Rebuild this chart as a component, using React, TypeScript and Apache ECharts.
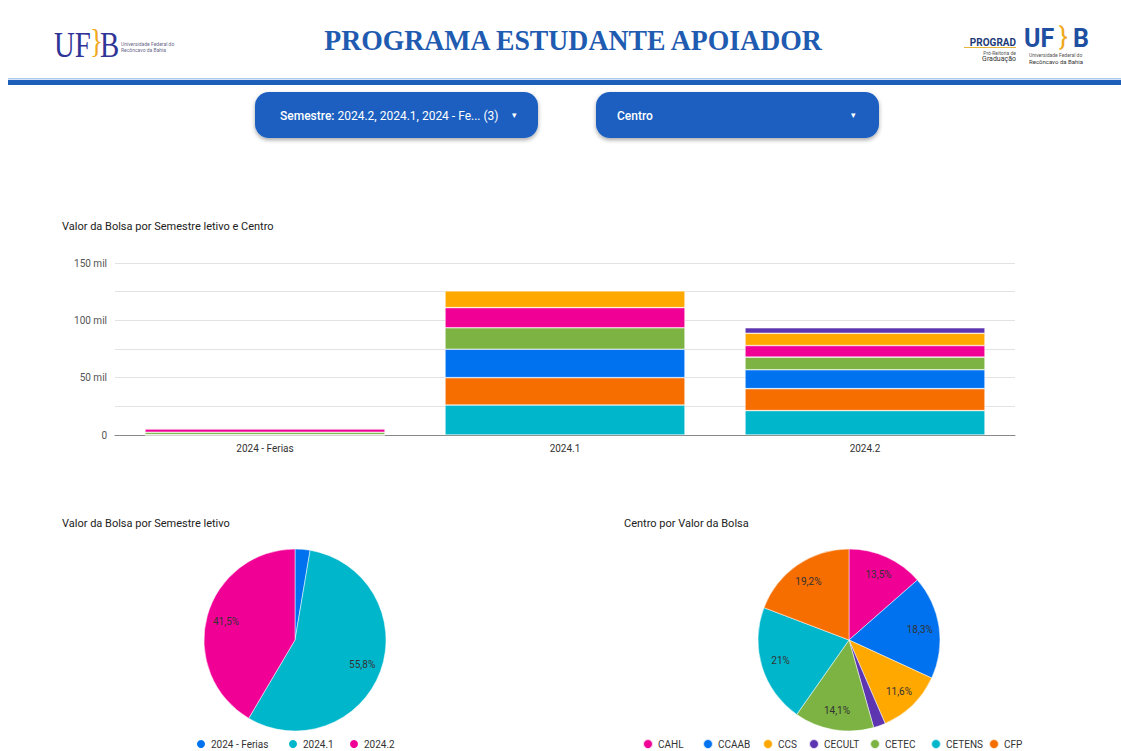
import React, { useEffect, useRef } from "react";
import * as echarts from "echarts";

const categories = ["2024 - Ferias", "2024.1", "2024.2"];
const centros = ["CAHL", "CCAAB", "CCS", "CECULT", "CETEC", "CETENS", "CFP"];

// Valor da Bolsa (R$) por centro, por semestre [2024 - Ferias, 2024.1, 2024.2]
const cahl = [2800, 17600, 10100];
const ccaab = [0, 24800, 16500];
const ccs = [800, 14700, 10700];
const cecult = [0, 0, 4800];
const cetec = [2100, 18700, 11000];
const cetens = [0, 26100, 21300];
const cfp = [300, 23900, 19100];

const yTicks = [0, 50000, 100000, 150000];
const yTickLabels = ["0", "50 mil", "100 mil", "150 mil"];

const valuesByCentro: Record<string, number[]> = {
  CAHL: cahl,
  CCAAB: ccaab,
  CCS: ccs,
  CECULT: cecult,
  CETEC: cetec,
  CETENS: cetens,
  CFP: cfp,
};

const colorByCentro: Record<string, string> = {
  CAHL: "#f10096",
  CCAAB: "#0072f0",
  CCS: "#ffa800",
  CECULT: "#5e35b1",
  CETEC: "#7cb342",
  CETENS: "#00b6cb",
  CFP: "#f66d00",
};
const semesterColors = ["#0072f0", "#00b6cb", "#f10096"];

// stacking order, bottom to top
const stackOrder = ["CETENS", "CFP", "CCAAB", "CETEC", "CAHL", "CCS", "CECULT"];

// legend item circle centres (x)
const semLegendX = [200, 292, 353];
const centroLegendX = [647, 707, 767, 813, 874, 935, 993];

const FONT = "Roboto, 'Noto Sans', sans-serif";

function pctLabel(p: any) {
  if (p.percent < 5) return "";
  const v = Math.round(p.percent * 10) / 10;
  return String(v).replace(".", ",") + "%";
}

export default function App() {
  const ref = useRef<HTMLDivElement>(null);
  useEffect(() => {
    if (!ref.current) return;
    const chart = echarts.init(ref.current, null, { renderer: "svg" });

    const semTotals = categories.map((_, i) =>
      centros.reduce((s, c) => s + valuesByCentro[c][i], 0)
    );
    const centroTotals = centros.map((c) =>
      valuesByCentro[c].reduce((s, v) => s + v, 0)
    );

    const semData = categories.map((name, i) => ({
      name,
      value: semTotals[i],
      itemStyle: { color: semesterColors[i] },
    }));
    const centroData = centros.map((name, i) => ({
      name,
      value: centroTotals[i],
      itemStyle: { color: colorByCentro[name] },
    }));

    const barSeries = stackOrder.map((c) => ({
      type: "bar",
      name: c,
      stack: "total",
      data: valuesByCentro[c],
      barWidth: "80%",
      itemStyle: {
        color: colorByCentro[c],
        borderColor: "rgba(255,255,255,0.8)",
        borderWidth: 0.6,
      },
      xAxisIndex: 0,
      yAxisIndex: 0,
    }));

    const pieBase = {
      type: "pie",
      radius: [0, 91],
      startAngle: 90,
      clockwise: true,
      avoidLabelOverlap: false,
      label: { show: false },
      labelLine: { show: false },
      itemStyle: { borderColor: "#fff", borderWidth: 0.5 },
    };
    const pieLabelBase = {
      type: "pie",
      radius: [46, 91],
      startAngle: 90,
      clockwise: true,
      silent: true,
      avoidLabelOverlap: false,
      legendHoverLink: false,
      label: {
        show: true,
        position: "inside",
        formatter: pctLabel,
        color: "#333",
        fontSize: 10,
        fontFamily: FONT,
      },
      labelLine: { show: false },
      itemStyle: { color: "rgba(0,0,0,0)" },
      emphasis: { disabled: true },
    };

    const legendBase = {
      top: 733,
      icon: "circle",
      itemWidth: 10,
      itemHeight: 10,
      itemGap: 0,
      textStyle: { fontSize: 10, color: "#333", fontFamily: FONT },
      selectedMode: false,
    };
    const legends = [
      ...categories.map((name, i) => ({ ...legendBase, data: [name], left: semLegendX[i] - 10 })),
      ...centros.map((name, i) => ({ ...legendBase, data: [name], left: centroLegendX[i] - 10 })),
    ];

    const graphic: any[] = [
      // header line
      { type: "rect", shape: { x: 8, y: 78, width: 1113, height: 1.5 }, style: { fill: "#a9cbef" } },
      { type: "rect", shape: { x: 8, y: 80, width: 1113, height: 5 }, style: { fill: "#1b5fb8" } },
      // title
      {
        type: "text",
        x: 573,
        y: 40,
        scaleX: 0.925,
        style: {
          text: "PROGRAMA ESTUDANTE APOIADOR",
          fill: "#1f5bb0",
          font: "bold 30px 'Liberation Serif', 'DejaVu Serif', serif",
          align: "center",
          verticalAlign: "middle",
        },
      },
      // left logo
      {
        type: "text",
        x: 54,
        y: 45,
        scaleX: 0.8,
        style: {
          text: "UF",
          fill: "#2f3596",
          font: "36px 'Liberation Serif', serif",
          verticalAlign: "middle",
        },
      },
      {
        type: "text",
        x: 90,
        y: 41,
        scaleX: 0.8,
        style: {
          text: "}",
          fill: "#f0a81c",
          font: "34px 'Liberation Serif', serif",
          verticalAlign: "middle",
        },
      },
      {
        type: "text",
        x: 100,
        y: 45,
        scaleX: 0.8,
        style: {
          text: "B",
          fill: "#2f3596",
          font: "36px 'Liberation Serif', serif",
          verticalAlign: "middle",
        },
      },
      {
        type: "text",
        x: 121,
        y: 44,
        style: {
          text: "Universidade Federal do",
          fill: "#6a6a8a",
          font: "5px " + FONT,
          verticalAlign: "middle",
        },
      },
      {
        type: "text",
        x: 121,
        y: 50,
        style: {
          text: "Recôncavo da Bahia",
          fill: "#6a6a8a",
          font: "5px " + FONT,
          verticalAlign: "middle",
        },
      },
      // right logo
      {
        type: "text",
        x: 1016,
        y: 42,
        style: {
          text: "PROGRAD",
          fill: "#1d3b78",
          font: "bold 10px " + FONT,
          align: "right",
          verticalAlign: "middle",
        },
      },
      { type: "rect", shape: { x: 964, y: 47, width: 52, height: 1 }, style: { fill: "#e7b53a" } },
      {
        type: "text",
        x: 1016,
        y: 53,
        style: {
          text: "Pró-Reitoria de",
          fill: "#555",
          font: "5px " + FONT,
          align: "right",
          verticalAlign: "middle",
        },
      },
      {
        type: "text",
        x: 1016,
        y: 59,
        style: {
          text: "Graduação",
          fill: "#333",
          font: "7px " + FONT,
          align: "right",
          verticalAlign: "middle",
        },
      },
      {
        type: "text",
        x: 1024,
        y: 38,
        style: {
          text: "UF",
          fill: "#1f4fa0",
          font: "bold 25px " + FONT,
          verticalAlign: "middle",
        },
      },
      {
        type: "text",
        x: 1059,
        y: 36,
        style: {
          text: "}",
          fill: "#f0a81c",
          font: "26px " + FONT,
          verticalAlign: "middle",
        },
      },
      {
        type: "text",
        x: 1073,
        y: 38,
        style: {
          text: "B",
          fill: "#1f4fa0",
          font: "bold 25px " + FONT,
          verticalAlign: "middle",
        },
      },
      {
        type: "text",
        x: 1029,
        y: 55,
        style: {
          text: "Universidade Federal do",
          fill: "#555",
          font: "5px " + FONT,
          verticalAlign: "middle",
        },
      },
      {
        type: "text",
        x: 1029,
        y: 61,
        style: {
          text: "Recôncavo da Bahia",
          fill: "#333",
          font: "6px " + FONT,
          verticalAlign: "middle",
        },
      },
      // dropdowns
      {
        type: "rect",
        shape: { x: 255, y: 92, width: 283, height: 46, r: 14 },
        style: {
          fill: "#1a5fc0",
          shadowBlur: 4,
          shadowOffsetY: 2,
          shadowColor: "rgba(0,0,0,0.35)",
        },
      },
      {
        type: "text",
        x: 280,
        y: 116,
        style: {
          text: "{b|Semestre:} 2024.2, 2024.1, 2024 - Fe... (3)",
          fill: "#fff",
          font: "12px " + FONT,
          verticalAlign: "middle",
          rich: {
            b: { fill: "#fff", font: "500 12px " + FONT },
          },
        },
      },
      {
        type: "text",
        x: 512,
        y: 115,
        style: { text: "▾", fill: "#fff", font: "9px " + FONT, verticalAlign: "middle" },
      },
      {
        type: "rect",
        shape: { x: 596, y: 92, width: 283, height: 46, r: 14 },
        style: {
          fill: "#1a5fc0",
          shadowBlur: 4,
          shadowOffsetY: 2,
          shadowColor: "rgba(0,0,0,0.35)",
        },
      },
      {
        type: "text",
        x: 617,
        y: 116,
        style: { text: "Centro", fill: "#fff", font: "500 12px " + FONT, verticalAlign: "middle" },
      },
      {
        type: "text",
        x: 851,
        y: 115,
        style: { text: "▾", fill: "#fff", font: "9px " + FONT, verticalAlign: "middle" },
      },
      // section titles
      {
        type: "text",
        x: 62,
        y: 226,
        style: {
          text: "Valor da Bolsa por Semestre letivo e Centro",
          fill: "#222",
          font: "11px " + FONT,
          verticalAlign: "middle",
        },
      },
      {
        type: "text",
        x: 62,
        y: 523,
        style: {
          text: "Valor da Bolsa por Semestre letivo",
          fill: "#222",
          font: "11px " + FONT,
          verticalAlign: "middle",
        },
      },
      {
        type: "text",
        x: 624,
        y: 523,
        style: {
          text: "Centro por Valor da Bolsa",
          fill: "#222",
          font: "11px " + FONT,
          verticalAlign: "middle",
        },
      },
    ];

    chart.setOption({
      animation: false,
      backgroundColor: "#fff",
      textStyle: { fontFamily: FONT },
      graphic,
      grid: { left: 115, right: 106, top: 263, bottom: 316, containLabel: false },
      xAxis: {
        type: "category",
        data: categories,
        axisLine: { lineStyle: { color: "#888", width: 1 } },
        axisTick: { show: false },
        axisLabel: { color: "#333", fontSize: 10, margin: 8 },
      },
      yAxis: {
        type: "value",
        min: 0,
        max: 150000,
        interval: 25000,
        axisLine: { show: false },
        axisTick: { show: false },
        axisLabel: {
          color: "#555",
          fontSize: 10,
          margin: 8,
          formatter: (v: number) => {
            const idx = yTicks.indexOf(v);
            return idx >= 0 ? yTickLabels[idx] : "";
          },
        },
        splitLine: { lineStyle: { color: "#e3e3e3", width: 1 } },
      },
      legend: legends,
      series: [
        ...barSeries,
        { ...pieBase, name: "Semestre", center: [295, 640], data: semData },
        { ...pieBase, name: "Centro", center: [849, 640], data: centroData },
        { ...pieLabelBase, name: "SemestreLbl", center: [295, 640], data: semData.map((d) => ({ name: d.name, value: d.value })) },
        { ...pieLabelBase, name: "CentroLbl", center: [849, 640], data: centroData.map((d) => ({ name: d.name, value: d.value })) },
      ],
    });

    return () => chart.dispose();
  }, []);

  return (
    <div
      ref={ref}
      style={{ position: "fixed", left: 0, top: 0, width: 1121, height: 751 }}
    />
  );
}
